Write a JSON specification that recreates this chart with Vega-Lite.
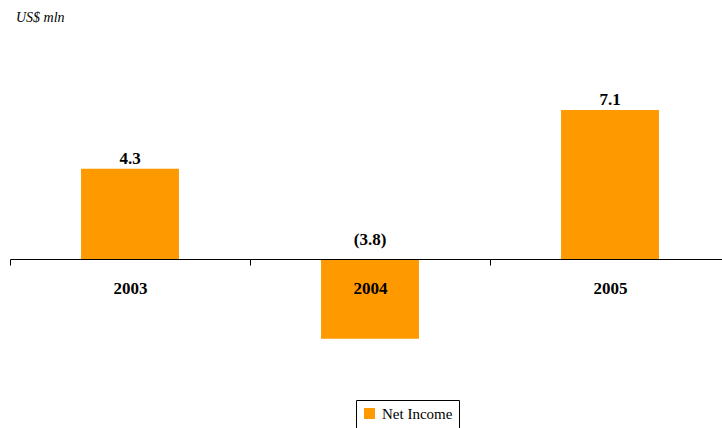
{
  "$schema": "https://vega.github.io/schema/vega-lite/v6.json",
  "autosize": {"type": "none"},
  "padding": {"left": 10, "top": 30, "right": 0, "bottom": 48},
  "width": 720,
  "height": 350,
  "background": "white",
  "config": {"view": {"stroke": null}, "font": "Liberation Serif"},
  "title": {
    "text": "US$ mln",
    "anchor": "start",
    "frame": "group",
    "font": "Liberation Serif",
    "fontStyle": "italic",
    "fontWeight": "normal",
    "fontSize": 14,
    "color": "black",
    "baseline": "alphabetic",
    "offset": 9,
    "dx": 6,
    "dy": 15
  },
  "data": {
    "values": [
      {"year": "2003", "value": 4.3, "label": "4.3", "series": "Net Income"},
      {"year": "2004", "value": -3.8, "label": "(3.8)", "series": "Net Income"},
      {"year": "2005", "value": 7.1, "label": "7.1", "series": "Net Income"}
    ]
  },
  "encoding": {
    "x": {
      "field": "year",
      "type": "nominal",
      "sort": null,
      "scale": {"paddingInner": 0.592, "paddingOuter": 0.296},
      "axis": {
        "orient": "bottom",
        "offset": -121,
        "zindex": 2,
        "title": null,
        "labelAngle": 0,
        "tickOffset": -120,
        "labelOffset": 120,
        "domainColor": "black",
        "tickColor": "black",
        "tickSize": 6,
        "labelFont": "Liberation Serif",
        "labelFontWeight": "bold",
        "labelFontSize": 17,
        "labelColor": "black",
        "labelPadding": 15,
        "grid": false
      }
    }
  },
  "layer": [
    {
      "mark": {"type": "bar"},
      "encoding": {
        "y": {
          "field": "value",
          "type": "quantitative",
          "scale": {"domain": [-5.762, 10.905], "nice": false},
          "axis": null
        },
        "color": {
          "field": "series",
          "type": "nominal",
          "scale": {"range": ["#FF9900"]},
          "legend": {
            "orient": "none",
            "legendX": 346,
            "legendY": 370,
            "title": null,
            "strokeColor": "black",
            "fillColor": "white",
            "padding": 6,
            "symbolType": "square",
            "symbolSize": 121,
            "symbolStrokeWidth": 0,
            "symbolOpacity": 1,
            "labelFont": "Liberation Serif",
            "labelFontSize": 15,
            "labelColor": "black",
            "labelOffset": 5
          }
        }
      }
    },
    {
      "transform": [{"filter": "datum.value >= 0"}],
      "mark": {"type": "text", "baseline": "alphabetic", "dy": -5, "font": "Liberation Serif", "fontWeight": "bold", "fontSize": 17, "color": "black"},
      "encoding": {
        "y": {"field": "value", "type": "quantitative", "scale": {"domain": [-5.762, 10.905], "nice": false}},
        "text": {"field": "label"}
      }
    },
    {
      "transform": [{"filter": "datum.value < 0"}],
      "mark": {"type": "text", "baseline": "alphabetic", "dy": -14, "font": "Liberation Serif", "fontWeight": "bold", "fontSize": 17, "color": "black"},
      "encoding": {
        "y": {"datum": 0, "type": "quantitative", "scale": {"domain": [-5.762, 10.905], "nice": false}},
        "text": {"field": "label"}
      }
    }
  ]
}
